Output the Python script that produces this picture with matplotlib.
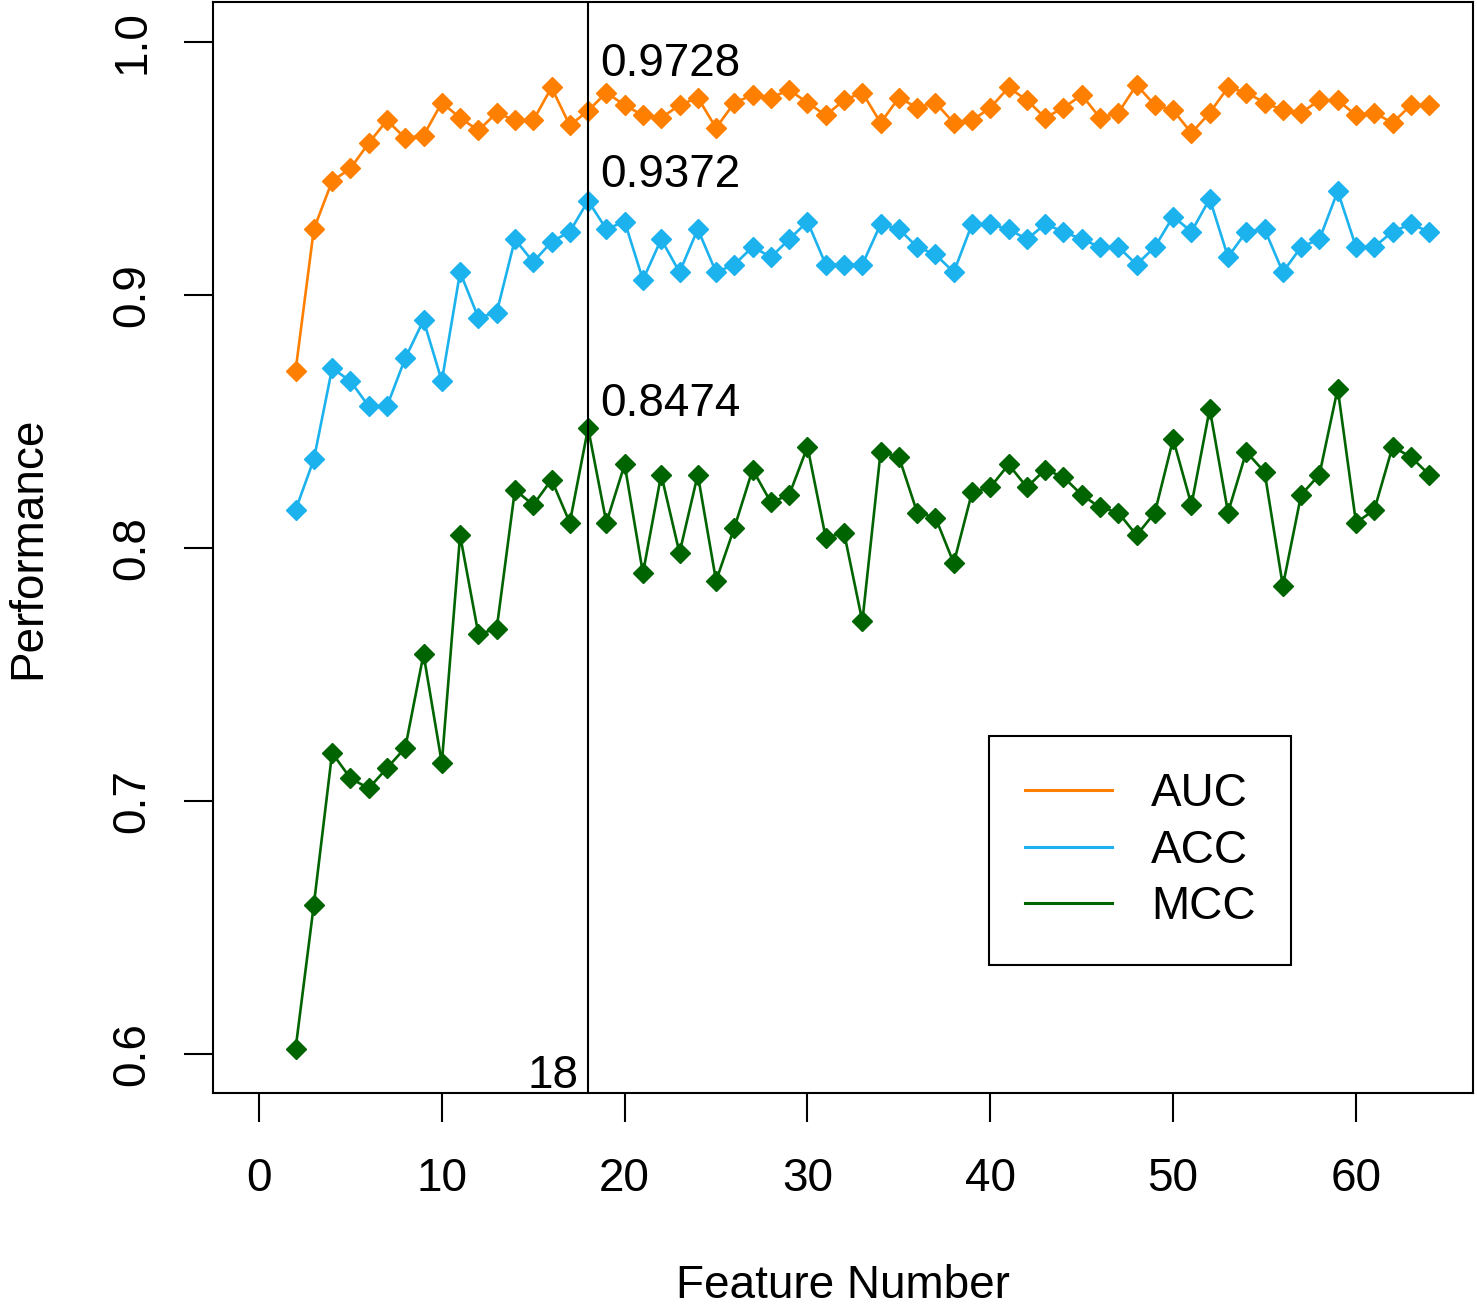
import matplotlib
matplotlib.use('Agg')
import matplotlib.pyplot as plt

plt.rcParams['font.family'] = ['Liberation Sans', 'DejaVu Sans']

# Feature counts on the x axis
features = list(range(2, 65))

auc = [0.870, 0.926, 0.945, 0.950, 0.960, 0.969, 0.962, 0.963, 0.976, 0.970,
       0.965, 0.972, 0.969, 0.969, 0.982, 0.967, 0.9728, 0.980, 0.975, 0.971,
       0.970, 0.975, 0.978, 0.966, 0.976, 0.979, 0.978, 0.981, 0.976, 0.971,
       0.977, 0.980, 0.968, 0.978, 0.974, 0.976, 0.968, 0.969, 0.974, 0.982,
       0.977, 0.970, 0.974, 0.979, 0.970, 0.972, 0.983, 0.975, 0.973, 0.964,
       0.972, 0.982, 0.980, 0.976, 0.973, 0.972, 0.977, 0.977, 0.971, 0.972,
       0.968, 0.975, 0.975]

acc = [0.815, 0.835, 0.871, 0.866, 0.856, 0.856, 0.875, 0.890, 0.866, 0.909,
       0.891, 0.893, 0.922, 0.913, 0.921, 0.925, 0.9372, 0.926, 0.929, 0.906,
       0.922, 0.909, 0.926, 0.909, 0.912, 0.919, 0.915, 0.922, 0.929, 0.912,
       0.912, 0.912, 0.928, 0.926, 0.919, 0.916, 0.909, 0.928, 0.928, 0.926,
       0.922, 0.928, 0.925, 0.922, 0.919, 0.919, 0.912, 0.919, 0.931, 0.925,
       0.938, 0.915, 0.925, 0.926, 0.909, 0.919, 0.922, 0.941, 0.919, 0.919,
       0.925, 0.928, 0.925]

mcc = [0.602, 0.659, 0.719, 0.709, 0.705, 0.713, 0.721, 0.758, 0.715, 0.805,
       0.766, 0.768, 0.823, 0.817, 0.827, 0.810, 0.8474, 0.810, 0.833, 0.790,
       0.829, 0.798, 0.829, 0.787, 0.808, 0.831, 0.818, 0.821, 0.840, 0.804,
       0.806, 0.771, 0.838, 0.836, 0.814, 0.812, 0.794, 0.822, 0.824, 0.833,
       0.824, 0.831, 0.828, 0.821, 0.816, 0.814, 0.805, 0.814, 0.843, 0.817,
       0.855, 0.814, 0.838, 0.830, 0.785, 0.821, 0.829, 0.863, 0.810, 0.815,
       0.840, 0.836, 0.829]

best_n = 18
series = [('AUC', auc, '#FF7F00'), ('ACC', acc, '#1CB2EE'), ('MCC', mcc, '#006400')]
label_offsets = {'AUC': 25, 'ACC': 10, 'MCC': 9}   # points above the best point

fig = plt.figure(figsize=(14.77, 13.08), dpi=100)
ax = fig.add_axes([0.1442, 0.1644, 0.9973 - 0.1442, 0.9985 - 0.1644])

for name, vals, col in series:
    ax.plot(features, vals, color=col, lw=1.9, marker='D', ms=10.5,
            mec=col, mfc=col, label=name)

ax.axvline(best_n, color='black', lw=1.5)

for name, vals, col in series:
    v = vals[features.index(best_n)]
    ax.annotate(f'{v:.4f}', xy=(best_n, v), xytext=(8.5, label_offsets[name]),
                textcoords='offset points', ha='left', va='baseline', fontsize=33)

ax.annotate(str(best_n), xy=(best_n, 0), xycoords=('data', 'axes fraction'),
            xytext=(-7, 3.5), textcoords='offset points', ha='right', va='baseline',
            fontsize=33)

ax.set_xlim(-2.516, 66.40)
ax.set_ylim(0.5846, 1.0158)
ax.set_xticks([0, 10, 20, 30, 40, 50, 60])
ax.set_yticks([0.6, 0.7, 0.8, 0.9, 1.0])
ax.set_yticklabels(['0.6', '0.7', '0.8', '0.9', '1.0'])
ax.tick_params(axis='both', direction='out', length=21, width=1.5, labelsize=33)
ax.tick_params(axis='x', pad=25)
ax.tick_params(axis='y', pad=21)
for lab in ax.get_yticklabels():
    lab.set_rotation(90)
    lab.set_va('center')

for sp in ax.spines.values():
    sp.set_linewidth(1.5)

ax.set_xlabel('Feature Number', fontsize=33)
ax.set_ylabel('Performance', fontsize=33)
ax.xaxis.set_label_coords(0.5, -0.157)
ax.yaxis.set_label_coords(-0.129, 0.5)

leg = ax.legend(loc='upper left', bbox_to_anchor=(0.616, 0.3272), borderaxespad=0,
                fontsize=33, handlelength=1.9, handletextpad=0.85, labelspacing=0.28,
                borderpad=0.78, fancybox=False, edgecolor='black', framealpha=1)
leg.get_frame().set_linewidth(1.5)
for h in leg.get_lines():
    h.set_marker('')
    h.set_linewidth(2.2)

fig.savefig('out.png', dpi=100)
